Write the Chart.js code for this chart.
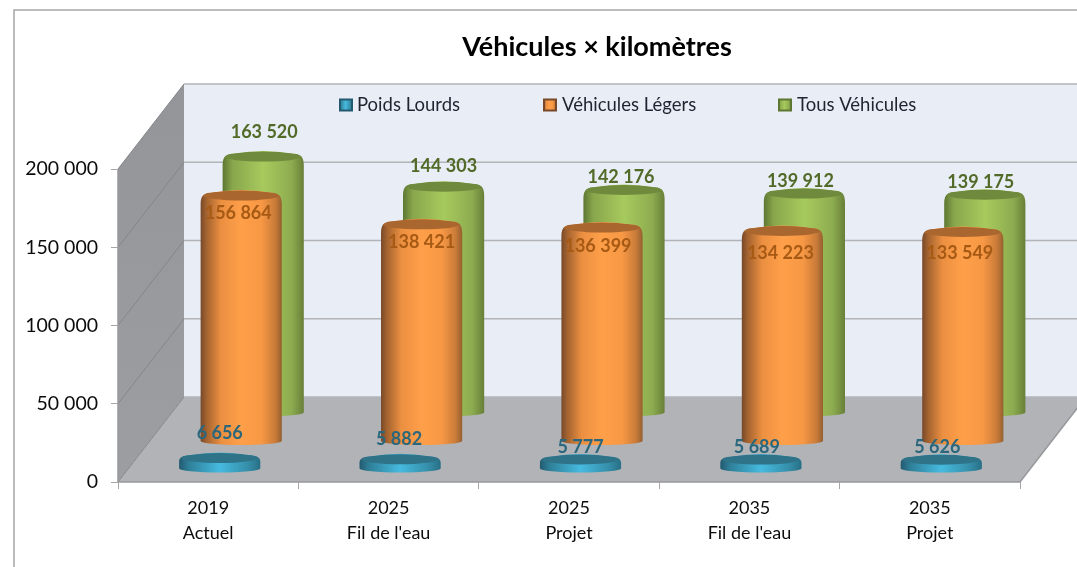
<!DOCTYPE html>
<html lang="fr">
<head>
<meta charset="utf-8">
<title>Véhicules × kilomètres</title>
<script src="https://cdn.jsdelivr.net/npm/chart.js@4"></script>
<style>html,body{margin:0;padding:0;background:#fff;overflow:hidden}canvas{display:block}</style>
</head>
<body>
<canvas id="c" width="1077" height="567"></canvas>
<script>
const titleText = 'Véhicules × kilomètres';
const categories = [['2019','Actuel'],['2025',"Fil de l'eau"],['2025','Projet'],['2035',"Fil de l'eau"],['2035','Projet']];
const poidsLourds = [6656, 5882, 5777, 5689, 5626];
const vehiculesLegers = [156864, 138421, 136399, 134223, 133549];
const tousVehicules = [163520, 144303, 142176, 139912, 139175];
const yTicks = [0, 50000, 100000, 150000, 200000];

const FONT = 'Lato, Carlito, "Open Sans", sans-serif';
const wallDepth = {dx: 66, dy: -85};
const seriesDepth = [{dx: 11.5, dy: -13}, {dx: 33, dy: -40.5}, {dx: 55, dy: -69}];
const palettes = [
  {stops:[[0,'#235a70'],[.12,'#2f8099'],[.5,'#46badf'],[.85,'#358ea9'],[1,'#286f86']], top:'#2f7389', text:'#2a677c'},
  {stops:[[0,'#77492a'],[.07,'#a2622f'],[.25,'#eb8f41'],[.5,'#ff9f49'],[.75,'#f79845'],[.92,'#c97b39'],[1,'#94602f']], top:'#a9662f', text:'#a65a14'},
  {stops:[[0,'#5d7733'],[.12,'#88a64c'],[.5,'#a7ca5d'],[.85,'#8dac50'],[1,'#687f38']], top:'#6f8a3d', text:'#526a28'}
];
const labelNudges = [
  {x:[0,-1,0,-4,-4],  y:[-25,-21,-13,-13,-13]},
  {x:[-3,0,-4,-2,-3], y:[17,17,18,22,21]},
  {x:[1,0,-3,-4,-4],  y:[-25,-21,-13,-13,-13]}
];
const legendSlots = [{mark:339, text:357}, {mark:543, text:562}, {mark:778, text:797}];
const legendY = 105;
const titleCenterX = 597;

function fmt(v){ return String(v).replace(/\B(?=(\d{3})+(?!\d))/g,' '); }

function cylinder(ctx, cx, top, base, rx, pal, tall){
  const ryTop = 5.5, ryBase = 4;
  const sh = tall ? 8 : 3;
  const g = ctx.createLinearGradient(cx-rx,0,cx+rx,0);
  pal.stops.forEach(s=>g.addColorStop(s[0],s[1]));
  ctx.save();
  ctx.beginPath();
  ctx.moveTo(cx-rx, base);
  ctx.ellipse(cx, base, rx, ryBase, 0, Math.PI, 0, true);
  ctx.lineTo(cx+rx, top+sh);
  ctx.bezierCurveTo(cx+rx, top-2, cx+rx-5, top-3, cx+rx-12, top-3.5);
  ctx.quadraticCurveTo(cx, top-8.5, cx-rx+12, top-3.5);
  ctx.bezierCurveTo(cx-rx+5, top-3, cx-rx, top-2, cx-rx, top+sh);
  ctx.closePath();
  ctx.fillStyle = g;
  ctx.fill();
  ctx.clip();
  ctx.beginPath();
  ctx.ellipse(cx, top-0.5, rx-2, ryTop-0.5, 0, 0, Math.PI*2);
  ctx.fillStyle = pal.top;
  ctx.filter = 'blur(0.7px)';
  ctx.fill();
  ctx.restore();
}

const scene = {
  id:'scene',
  afterLayout(chart){
    const t = chart.titleBlock;
    const w = t.right - t.left;
    t.left = titleCenterX - w/2;
    t.right = titleCenterX + w/2;
  },
  beforeDraw(chart){
    const ctx = chart.ctx, {left,right} = chart.chartArea, d = wallDepth;
    const y = chart.scales.y, W = chart.width;
    const yTop = y.getPixelForValue(200000), y0 = y.getPixelForValue(0);
    ctx.save();
    // outer frame
    ctx.strokeStyle='#a6a6a6'; ctx.lineWidth=1.5;
    ctx.beginPath(); ctx.moveTo(14,chart.height); ctx.lineTo(14,10); ctx.lineTo(W,10); ctx.stroke();
    // back wall
    ctx.fillStyle='#e9edf6';
    ctx.fillRect(left+d.dx, yTop+d.dy, W-left-d.dx, y0-yTop);
    // left wall
    const lw = ctx.createLinearGradient(0,yTop+d.dy,0,y0);
    lw.addColorStop(0,'#949598'); lw.addColorStop(1,'#9d9ea1');
    ctx.fillStyle=lw;
    ctx.beginPath();
    ctx.moveTo(left,yTop); ctx.lineTo(left+d.dx,yTop+d.dy); ctx.lineTo(left+d.dx,y0+d.dy); ctx.lineTo(left,y0);
    ctx.closePath(); ctx.fill();
    // floor
    ctx.fillStyle='#b1b3b6';
    ctx.beginPath();
    ctx.moveTo(left,y0); ctx.lineTo(left+d.dx,y0+d.dy); ctx.lineTo(right+d.dx,y0+d.dy); ctx.lineTo(right,y0);
    ctx.closePath(); ctx.fill();
    // grid lines
    yTicks.forEach(v=>{
      const p = y.getPixelForValue(v);
      ctx.strokeStyle='#85868a'; ctx.lineWidth=1;
      ctx.beginPath(); ctx.moveTo(left,p); ctx.lineTo(left+d.dx,p+d.dy); ctx.stroke();
      ctx.strokeStyle='#b2b4b8'; ctx.lineWidth=1.6;
      ctx.beginPath(); ctx.moveTo(left+d.dx,p+d.dy); ctx.lineTo(W,p+d.dy); ctx.stroke();
    });
    // front edges
    ctx.strokeStyle='#97989b'; ctx.lineWidth=1.5;
    ctx.beginPath(); ctx.moveTo(left,y0); ctx.lineTo(right,y0); ctx.lineTo(right+d.dx,y0+d.dy); ctx.stroke();
    ctx.beginPath(); ctx.moveTo(left,y0); ctx.lineTo(left,yTop); ctx.stroke();
    // legend
    ctx.textBaseline='middle'; ctx.textAlign='left'; ctx.font='18.5px '+FONT;
    chart.data.datasets.forEach((ds,i)=>{
      const s = legendSlots[i], pal = palettes[i];
      const g = ctx.createLinearGradient(s.mark,0,s.mark+13,0);
      pal.stops.forEach(c=>g.addColorStop(c[0],c[1]));
      ctx.fillStyle=pal.stops[0][1]; ctx.fillRect(s.mark,legendY-6.5,14,13);
      ctx.fillStyle=g; ctx.fillRect(s.mark+2,legendY-4.5,10,9);
      ctx.fillStyle='#1f2430';
      ctx.fillText(ds.label,s.text,legendY);
    });
    ctx.restore();
  },
  beforeDatasetDraw(chart,args){
    const i = args.index, sd = seriesDepth[i], pal = palettes[i], ctx = chart.ctx;
    args.meta.data.forEach(el=>{
      cylinder(ctx, el.x+sd.dx, el.y+sd.dy, el.base+sd.dy, el.width/2, pal, i>0);
    });
    return false;
  },
  afterDatasetsDraw(chart){
    const ctx = chart.ctx;
    ctx.save();
    ctx.font='bold 18px '+FONT; ctx.textAlign='center'; ctx.textBaseline='middle';
    chart.data.datasets.forEach((ds,i)=>{
      const sd = seriesDepth[i], n = labelNudges[i];
      ctx.fillStyle = palettes[i].text;
      chart.getDatasetMeta(i).data.forEach((el,k)=>{
        ctx.fillText(fmt(ds.data[k]), el.x+sd.dx+n.x[k], el.y+sd.dy+n.y[k]);
      });
    });
    ctx.restore();
  }
};

new Chart(document.getElementById('c'),{
  type:'bar',
  data:{
    labels:categories,
    datasets:[
      {label:'Poids Lourds', data:poidsLourds, backgroundColor:'#46badf', grouped:false},
      {label:'Véhicules Légers', data:vehiculesLegers, backgroundColor:'#ff9f49', grouped:false},
      {label:'Tous Véhicules', data:tousVehicules, backgroundColor:'#a7ca5d', grouped:false}
    ]
  },
  options:{
    responsive:false, animation:false, events:[],
    layout:{padding:{left:0,right:57,top:0,bottom:0}},
    datasets:{bar:{barPercentage:0.9,categoryPercentage:0.5,grouped:false}},
    plugins:{
      legend:{display:false},
      tooltip:{enabled:false},
      title:{display:true,text:titleText,color:'#000',font:{family:FONT,size:27,weight:'bold',lineHeight:1.2},padding:{top:31,bottom:105.6}}
    },
    scales:{
      x:{
        grid:{display:true,drawOnChartArea:false,drawTicks:true,tickLength:7,color:'#a6a6a6'},
        border:{display:false},
        ticks:{color:'#0c0c0c',font:{family:FONT,size:18,lineHeight:1.37},padding:7,maxRotation:0,autoSkip:false},
        afterFit(s){s.height=85;}
      },
      y:{
        min:0,max:200000,
        afterBuildTicks(s){s.ticks=yTicks.map(v=>({value:v}));},
        grid:{display:true,drawOnChartArea:false,drawTicks:true,tickLength:7,color:'#a6a6a6'},
        border:{display:false},
        ticks:{color:'#0c0c0c',font:{family:FONT,size:19.5},padding:13,callback:fmt},
        afterFit(s){s.width=118;}
      }
    }
  },
  plugins:[scene]
});
</script>
</body>
</html>
